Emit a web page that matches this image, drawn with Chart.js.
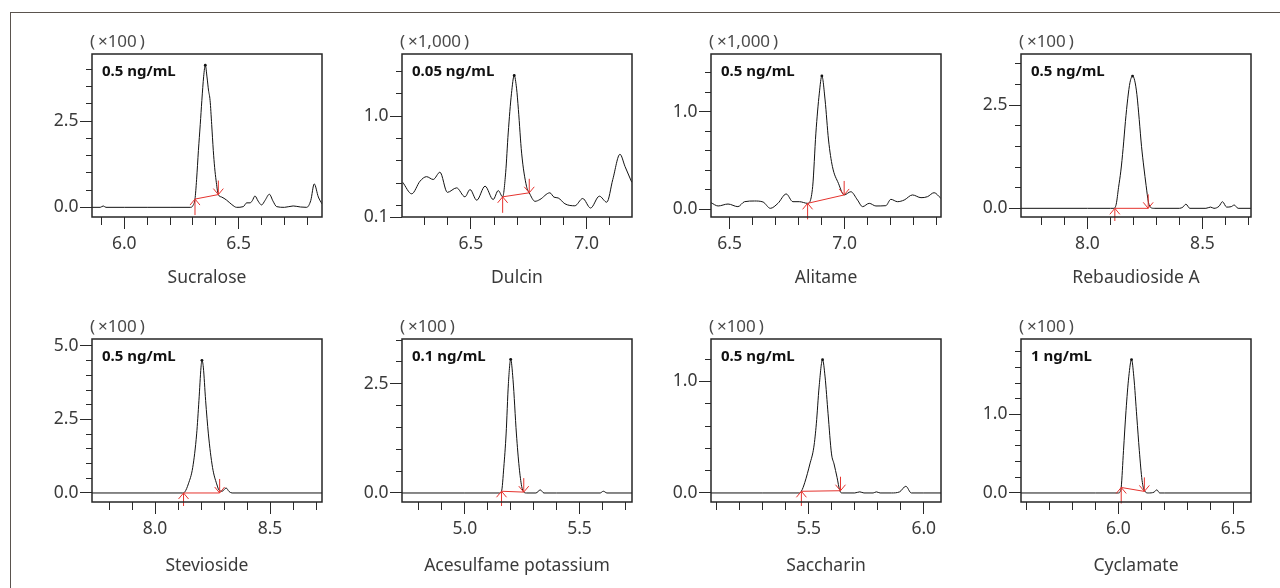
<!DOCTYPE html>
<html><head><meta charset="utf-8">
<script src="https://cdn.jsdelivr.net/npm/chart.js@4.4.1/dist/chart.umd.min.js"></script>
<style>
html,body{margin:0;padding:0;background:#fff;}
body{width:1280px;height:588px;position:relative;overflow:hidden;font-family:"Noto Sans",sans-serif;}
#frame{position:absolute;left:10px;top:12px;width:1300px;height:620px;border-top:1.5px solid #5a534e;border-left:1.5px solid #5a534e;}
canvas{position:absolute;}
</style></head><body>
<div id="frame"></div>
<script>
// ---------- names / labels ----------
const names = ['Sucralose','Dulcin','Alitame','Rebaudioside A','Stevioside','Acesulfame potassium','Saccharin','Cyclamate'];
const concLabels = ['0.5 ng/mL','0.05 ng/mL','0.5 ng/mL','0.5 ng/mL','0.5 ng/mL','0.1 ng/mL','0.5 ng/mL','1 ng/mL'];
const scaleLabels = ['(\u2009×100\u2009)','(\u2009×1,000\u2009)','(\u2009×1,000\u2009)','(\u2009×100\u2009)','(\u2009×100\u2009)','(\u2009×100\u2009)','(\u2009×100\u2009)','(\u2009×100\u2009)'];

// ---------- series (retention time, intensity) ----------
const sucraloseX = [5.859,5.895,5.908,5.92,6.0,6.1,6.2,6.29,6.3,6.309,6.316,6.324,6.332,6.339,6.347,6.354,6.362,6.368,6.375,6.382,6.389,6.395,6.401,6.411,6.425,6.447,6.47,6.491,6.52,6.535,6.55,6.56,6.571,6.585,6.6,6.615,6.634,6.65,6.666,6.7,6.738,6.77,6.797,6.815,6.83,6.848,6.864];
const sucraloseY = [0,0,0.04,0,0,0,0,0,0.05,0.24,0.8,1.65,2.4,3.1,3.8,4.12,3.75,3.4,3.1,2.4,1.65,1.15,0.79,0.37,0.3,0.21,0.08,0,0.02,0.13,0.13,0.2,0.33,0.18,0.07,0.2,0.38,0.18,0.02,0,0.04,0.01,0,0.2,0.68,0.3,0.1];

const dulcinX = [6.205,6.244,6.28,6.308,6.337,6.366,6.398,6.438,6.474,6.496,6.525,6.561,6.596,6.618,6.637,6.65,6.661,6.675,6.687,6.697,6.705,6.719,6.74,6.752,6.777,6.798,6.841,6.859,6.877,6.906,6.949,6.983,7.017,7.055,7.087,7.113,7.144,7.166,7.195];
const dulcinY = [0.41,0.307,0.42,0.46,0.435,0.5,0.32,0.36,0.28,0.345,0.25,0.375,0.256,0.336,0.28,0.495,0.85,1.2,1.363,1.25,1.06,0.67,0.375,0.316,0.24,0.256,0.316,0.277,0.27,0.218,0.2,0.265,0.18,0.286,0.232,0.435,0.66,0.55,0.41];

const alitameX = [6.419,6.45,6.493,6.536,6.565,6.608,6.645,6.677,6.71,6.746,6.775,6.803,6.839,6.861,6.875,6.89,6.901,6.915,6.93,6.947,6.973,6.998,7.027,7.056,7.078,7.107,7.136,7.179,7.201,7.23,7.259,7.295,7.332,7.36,7.389,7.418];
const alitameY = [0.068,0.034,0.054,0.027,0.078,0.085,0.075,0.01,0.061,0.157,0.078,0.078,0.061,0.232,0.78,1.19,1.366,1.12,0.71,0.437,0.266,0.147,0.18,0.095,0.027,0.061,0.034,0.037,0.102,0.078,0.095,0.147,0.119,0.129,0.17,0.113];

const rebaudiosideX = [7.711,8.0,8.1,8.115,8.125,8.135,8.145,8.155,8.165,8.175,8.185,8.196,8.205,8.215,8.225,8.235,8.245,8.255,8.265,8.275,8.29,8.4,8.415,8.428,8.445,8.515,8.535,8.55,8.572,8.587,8.605,8.625,8.638,8.655,8.711];
const rebaudiosideY = [0,0,0,0,0.1,0.5,0.9,1.45,2.1,2.65,3.05,3.2,3.1,2.75,2.15,1.5,1.0,0.55,0.15,0.02,0,0,0.03,0.1,0,0,0.03,0,0.05,0.16,0.03,0.04,0.08,0,0];

const steviosideX = [7.726,8.0,8.12,8.13,8.145,8.164,8.181,8.191,8.2,8.204,8.21,8.22,8.232,8.25,8.268,8.28,8.292,8.309,8.322,8.335,8.5,8.726];
const steviosideY = [0,0,0,0.04,0.31,0.87,2.01,3.15,4.28,4.51,4.28,3.15,2.01,0.87,0.31,0.08,0.06,0.17,0.05,0,0,0];

const acesulfameX = [4.726,5.0,5.15,5.16,5.17,5.18,5.19,5.2,5.21,5.225,5.237,5.248,5.257,5.27,5.31,5.329,5.345,5.4,5.59,5.604,5.62,5.729];
const acesulfameY = [0,0,0,0.04,0.59,1.35,2.5,3.057,2.6,1.35,0.59,0.15,0.02,0,0,0.07,0,0,0,0.04,0,0];

const saccharinX = [5.075,5.3,5.46,5.468,5.483,5.505,5.522,5.533,5.545,5.56,5.571,5.584,5.599,5.61,5.623,5.635,5.645,5.7,5.722,5.74,5.78,5.794,5.81,5.86,5.895,5.922,5.946,6.0,6.075];
const saccharinY = [0,0,0,0.015,0.095,0.26,0.41,0.62,0.95,1.195,1.04,0.71,0.35,0.26,0.14,0.02,0,0,0.01,0,0,0.01,0,0,0.01,0.06,0,0,0];

const cyclamateX = [5.575,5.9,6.0,6.008,6.012,6.022,6.033,6.045,6.057,6.067,6.08,6.091,6.103,6.113,6.13,6.155,6.167,6.18,6.2,6.578];
const cyclamateY = [0,0,0,0.02,0.07,0.54,1.05,1.48,1.7,1.48,0.97,0.54,0.16,0.03,0,0.01,0.04,0,0,0];

const seriesX = [sucraloseX,dulcinX,alitameX,rebaudiosideX,steviosideX,acesulfameX,saccharinX,cyclamateX];
const seriesY = [sucraloseY,dulcinY,alitameY,rebaudiosideY,steviosideY,acesulfameY,saccharinY,cyclamateY];

// ---------- integration markers ----------
const peakStartX = [6.309,6.637,6.839,8.119,8.124,5.160,5.468,6.012];
const peakStartY = [0.24,0.28,0.061,0,0,0.04,0.015,0.07];
const peakEndX   = [6.411,6.752,6.998,8.264,8.281,5.257,5.638,6.113];
const peakEndY   = [0.37,0.316,0.147,0,0,0.02,0.02,0.02];

// ---------- axes ----------
const xMins = [5.859,6.202,6.419,7.711,7.726,4.726,5.075,5.575];
const xMaxs = [6.864,7.196,7.419,8.711,8.726,5.729,6.075,6.578];
const yMins = [-0.28,0.1,-0.079,-0.21,-0.307,-0.206,-0.081,-0.115];
const yMaxs = [4.446,1.555,1.591,3.735,5.237,3.523,1.38,1.962];
const xTickLabels = [[6.0,6.5],[6.5,7.0],[6.5,7.0],[8.0,8.5],[8.0,8.5],[5.0,5.5],[5.5,6.0],[6.0,6.5]];
const yTickLabels = [[0,2.5],[0.1,1.0],[0,1.0],[0,2.5],[0,2.5,5.0],[0,2.5],[0,1.0],[0,1.0]];
const xMinorStep = 0.1;
const yMinorSteps = [0.5,0.2,0.2,0.5,0.5,0.5,0.2,0.2];

// ---------- layout ----------
const boxLefts = [92,402,711,1021];
const rowTops = [54,339];
const titleGaps = [61.5,64];
const BOX_W = 230, BOX_H = 163, PAD_L = 90, PAD_T = 40, PAD_R = 8, PAD_B = 80;

function stepTicks(min, max, step) {
  const out = [];
  for (let k = Math.ceil(min / step - 1e-9); k * step <= max + 1e-9; k++) out.push(+(k * step).toFixed(4));
  return out;
}

const decor = {
  id: 'decor',
  afterDatasetsDraw(chart, args, o) {
    const ctx = chart.ctx, a = chart.chartArea, xs = chart.scales.x, ys = chart.scales.y;
    const sx = xs.getPixelForValue(o.sx), sy = ys.getPixelForValue(o.sy);
    const ex = xs.getPixelForValue(o.ex), ey = ys.getPixelForValue(o.ey);
    ctx.save();
    ctx.strokeStyle = '#e5332e'; ctx.lineWidth = 1;
    const upLen = Math.min(16, a.bottom + 4 - sy);
    ctx.beginPath();
    ctx.moveTo(sx, sy + upLen); ctx.lineTo(sx, sy);
    ctx.moveTo(sx - 5, sy + 6); ctx.lineTo(sx, sy); ctx.lineTo(sx + 5, sy + 6);
    ctx.moveTo(ex, ey - 14); ctx.lineTo(ex, ey);
    ctx.moveTo(ex - 5, ey - 6); ctx.lineTo(ex, ey); ctx.lineTo(ex + 5, ey - 6);
    ctx.stroke();
    ctx.restore();
  },
  afterDraw(chart, args, o) {
    const ctx = chart.ctx, a = chart.chartArea;
    ctx.save();
    ctx.strokeStyle = '#262626'; ctx.lineWidth = 1.5;
    ctx.strokeRect(a.left, a.top, a.right - a.left, a.bottom - a.top);
    ctx.textBaseline = 'middle';
    ctx.textAlign = 'left';
    ctx.fillStyle = '#4a4a4a'; ctx.font = '17px "Noto Sans"';
    ctx.fillText(o.scaleText, a.left - 2, a.top - 12);
    ctx.fillStyle = '#111'; ctx.font = 'bold 15px "Noto Sans"';
    ctx.fillText(o.conc, a.left + 10, a.top + 17.5);
    ctx.fillStyle = '#3a3a3a'; ctx.font = '17.5px "Noto Sans"'; ctx.textAlign = 'center';
    ctx.fillText(o.title, (a.left + a.right) / 2, a.bottom + o.titleGap);
    ctx.restore();
  }
};

const fmt = v => Number(v).toFixed(1);

for (let i = 0; i < 8; i++) {
  const row = Math.floor(i / 4), col = i % 4;
  const cv = document.createElement('canvas');
  const W = PAD_L + BOX_W + PAD_R, H = PAD_T + BOX_H + PAD_B;
  cv.width = W; cv.height = H;
  cv.style.left = (boxLefts[col] - PAD_L) + 'px';
  cv.style.top = (rowTops[row] - PAD_T) + 'px';
  cv.style.width = W + 'px'; cv.style.height = H + 'px';
  document.body.appendChild(cv);

  const pts = seriesX[i].map((x, k) => ({x, y: seriesY[i][k]}));
  let apex = 0;
  seriesY[i].forEach((v, k) => { if (v > seriesY[i][apex]) apex = k; });

  const yMinor = Array.from(new Set(stepTicks(yMins[i], yMaxs[i], yMinorSteps[i]).concat(yTickLabels[i]))).sort((a,b)=>a-b);
  const xMinor = stepTicks(xMins[i], xMaxs[i], xMinorStep);
  const tickFont = {family: 'Noto Sans', size: 17.5};

  new Chart(cv, {
    type: 'line',
    data: {
      datasets: [
        {
          data: [{x: peakStartX[i], y: peakStartY[i]}, {x: peakEndX[i], y: peakEndY[i]}],
          borderColor: '#e5332e', borderWidth: 1, pointRadius: 0, tension: 0, order: 0
        },
        {
          data: pts,
          borderColor: '#111', borderWidth: 1, tension: 0.4, cubicInterpolationMode: 'monotone',
          pointRadius: c => c.dataIndex === apex ? 1.4 : 0,
          pointBackgroundColor: '#111', pointBorderWidth: 0, order: 1
        }
      ]
    },
    options: {
      responsive: false, animation: false, devicePixelRatio: 1,
      layout: {padding: {left: 0, top: PAD_T, right: PAD_R, bottom: PAD_B - 40}},
      plugins: {
        legend: {display: false}, tooltip: {enabled: false},
        decor: {title: names[i], conc: concLabels[i], scaleText: scaleLabels[i], titleGap: titleGaps[row],
                sx: peakStartX[i], sy: peakStartY[i], ex: peakEndX[i], ey: peakEndY[i]}
      },
      scales: {
        x: {
          type: 'linear', position: 'bottom', weight: 1, min: xMins[i], max: xMaxs[i],
          afterBuildTicks: s => { s.ticks = xTickLabels[i].map(v => ({value: v})); },
          afterFit: s => { s.height = 40; },
          grid: {drawOnChartArea: false, tickLength: 12, tickColor: '#2a2a2a', tickWidth: 1},
          border: {display: false},
          ticks: {padding: 5, color: '#3a3a3a', font: tickFont, callback: fmt, maxRotation: 0, autoSkip: false}
        },
        xm: {
          type: 'linear', position: 'bottom', weight: 0, min: xMins[i], max: xMaxs[i],
          afterBuildTicks: s => { s.ticks = xMinor.map(v => ({value: v})); },
          afterFit: s => { s.height = 0; },
          grid: {drawOnChartArea: false, tickLength: 8, tickColor: '#2a2a2a', tickWidth: 1},
          border: {display: false},
          ticks: {display: false}
        },
        y: {
          type: 'linear', position: 'left', weight: 1, min: yMins[i], max: yMaxs[i],
          afterBuildTicks: s => { s.ticks = yTickLabels[i].map(v => ({value: v})); },
          afterFit: s => { s.width = PAD_L; },
          grid: {drawOnChartArea: false, tickLength: 12, tickColor: '#2a2a2a', tickWidth: 1},
          border: {display: false},
          ticks: {padding: 1.5, color: '#3a3a3a', font: tickFont, callback: fmt, autoSkip: false}
        },
        ym: {
          type: 'linear', position: 'left', weight: 0, min: yMins[i], max: yMaxs[i],
          afterBuildTicks: s => { s.ticks = yMinor.map(v => ({value: v})); },
          afterFit: s => { s.width = 0; },
          grid: {drawOnChartArea: false, tickLength: 6, tickColor: '#2a2a2a', tickWidth: 1},
          border: {display: false},
          ticks: {display: false}
        }
      }
    },
    plugins: [decor]
  });
}
</script>
</body></html>
